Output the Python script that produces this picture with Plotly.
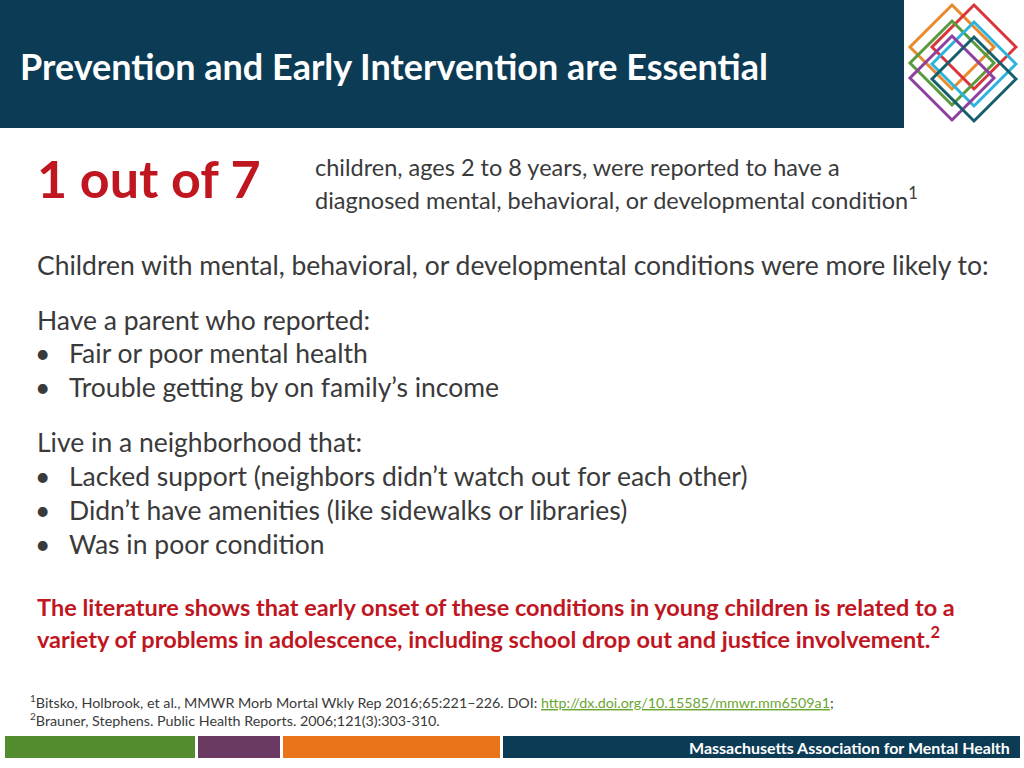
import plotly.graph_objects as go

title = "Prevention and Early Intervention are Essential"
stat_big = "1 out of 7"
stat_text = ["children, ages 2 to 8 years, were reported to have a",
             "diagnosed mental, behavioral, or developmental condition<sup>1</sup>"]
intro = "Children with mental, behavioral, or developmental conditions were more likely to:"
parent_head = "Have a parent who reported:"
parent_items = ["Fair or poor mental health", "Trouble getting by on family’s income"]
hood_head = "Live in a neighborhood that:"
hood_items = ["Lacked support (neighbors didn’t watch out for each other)",
              "Didn’t have amenities (like sidewalks or libraries)",
              "Was in poor condition"]
red_text = ["The literature shows that early onset of these conditions in young children is related to a",
            "variety of problems in adolescence, including school drop out and justice involvement.<sup>2</sup>"]
footer = "Massachusetts Association for Mental Health"

NAVY = "#0c3b55"
RED = "#c0161f"
TXT = "#3a3a3a"
FONT = "Lato"

fig = go.Figure()
shapes = []
ann = []

def rect(x0, y0, x1, y1, c):
    shapes.append(dict(type="rect", xref="x", yref="y", x0=x0, y0=y0, x1=x1, y1=y1,
                       fillcolor=c, line=dict(width=0), layer="below"))

def text(x, y, t, size, color=TXT, bold=False):
    ann.append(dict(x=x, y=y, xref="x", yref="y", text=("<b>%s</b>" % t) if bold else t,
                    showarrow=False, xanchor="left", yanchor="middle",
                    font=dict(family=FONT, size=size, color=color)))

rect(0, 0, 904, 128, NAVY)
text(18, 66, title, 36, "white", True)

# logo diamonds
logo = [(952, 47, "#e8892b"), (974, 47, "#d8343a"), (952, 63, "#5a9a3c"),
        (974, 64, "#2bb3de"), (952, 78, "#8e3fa0"), (974, 79, "#145e6e")]
h = 42
for cx, cy, c in logo:
    shapes.append(dict(type="path", xref="x", yref="y",
                       path=f"M {cx},{cy-h} L {cx+h},{cy} L {cx},{cy+h} L {cx-h},{cy} Z",
                       line=dict(color=c, width=3)))

text(35, 178, stat_big, 52, RED, True)
text(313, 167, stat_text[0], 23.5)
text(313, 198, stat_text[1], 23.5)
text(35, 265, intro, 26.5)
text(35, 320, parent_head, 26.5)
y = 353
for it in parent_items:
    text(33, y, "•", 26.5); text(67, y, it, 26.5); y += 34
text(35, 442, hood_head, 26.5)
y = 476
for it in hood_items:
    text(33, y, "•", 26.5); text(67, y, it, 26.5); y += 34
text(35, 607, red_text[0], 23.5, RED, True)
text(35, 637, red_text[1], 23.5, RED, True)
text(28, 701, "<sup>1</sup>Bitsko, Holbrook, et al., MMWR Morb Mortal Wkly Rep 2016;65:221–226. DOI: "
     "<span style='color:#6aa632'><u>http://dx.doi.org/10.15585/mmwr.mm6509a1</u></span>;", 14.3)
text(28, 719, "<sup>2</sup>Brauner, Stephens. Public Health Reports. 2006;121(3):303-310.", 14.3)

rect(5, 736, 195, 758, "#538b2f")
rect(198, 736, 280, 758, "#6b3a62")
rect(283, 736, 500, 758, "#ea7419")
rect(503, 736, 1020, 758, NAVY)
ann.append(dict(x=1012, y=747, xref="x", yref="y", text="<b>" + footer + "</b>", showarrow=False,
                xanchor="right", yanchor="middle", font=dict(family=FONT, size=16, color="white")))

fig.update_layout(width=1024, height=768, margin=dict(l=0, r=0, t=0, b=0),
                  paper_bgcolor="white", plot_bgcolor="white",
                  xaxis=dict(range=[0, 1024], visible=False, fixedrange=True),
                  yaxis=dict(range=[768, 0], visible=False, fixedrange=True),
                  shapes=shapes, annotations=ann, showlegend=False)
fig.write_html("out.html", config={"displayModeBar": False},
               post_script="document.body.style.margin='0';")
